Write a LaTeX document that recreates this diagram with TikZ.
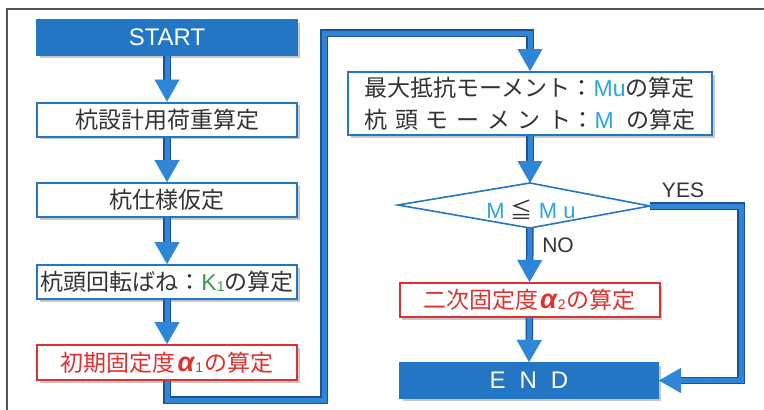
\documentclass[tikz,border=0pt]{standalone}
\usepackage{fontspec}
\setmainfont{Liberation Sans}
\newfontfamily\jp{Noto Sans CJK JP}
\usetikzlibrary{arrows.meta,shadows}
\definecolor{boxblue}{HTML}{2376C4}
\definecolor{arrowblue}{HTML}{2F86D6}
\definecolor{arrowdark}{HTML}{1D4F9C}
\definecolor{mcyan}{HTML}{2AA6DD}
\definecolor{kgreen}{HTML}{3A9A48}
\definecolor{redline}{HTML}{E03030}
\definecolor{textgray}{HTML}{333333}
\definecolor{framegray}{HTML}{555555}
\newcommand{\alphsub}[1]{\hspace{2pt}{\rmfamily\bfseries\itshape\fontsize{27}{27}\selectfont α}\hspace{1pt}{\rmfamily\raisebox{-1pt}{\fontsize{14}{14}\selectfont #1}}\hspace{1pt}}
\begin{document}
\begin{tikzpicture}[x=1pt,y=-1pt,
  box/.style={draw=boxblue, line width=2pt, fill=white, minimum width=260pt, minimum height=34pt,
    inner sep=0pt, text=textgray, font={\jp\fontsize{23}{27}\selectfont},
    drop shadow={shadow xshift=2.5pt, shadow yshift=-2.5pt, fill=black!22, opacity=1}},
  redbox/.style={box, draw=redline, text=redline},
  term/.style={box, fill=boxblue, text=white, font={\fontsize{24}{28}\selectfont}},
  lbl/.style={text=textgray, font={\fontsize{21}{24}\selectfont}, inner sep=0pt},
  arr/.style={line width=5pt, draw=arrowblue, line join=miter,
    -{Triangle[width=25pt,length=22pt,line width=0.01pt]},
    preaction={draw=arrowdark, line width=7.5pt, arrows=-, shorten >=18pt}},
  ]
\useasboundingbox (0,0) rectangle (764,410);
\fill[white] (0,0) rectangle (764,410);
\draw[framegray, line width=1.2pt] (7,410) -- (7,9) -- (764,9);

% left column
\node[term, minimum height=35pt] (start) at (167,37.5) {START};
\node[box] (b1) at (167,119.5) {杭設計用荷重算定};
\node[box] (b2) at (167,200) {杭仕様仮定};
\node[box] (b3) at (167,282) {杭頭回転ばね：{\rmfamily\color{kgreen}K\raisebox{-1pt}{\fontsize{14}{14}\selectfont 1}}の算定};
\node[redbox, minimum height=35pt] (b4) at (167,362.5) {初期固定度\alphsub{1}の算定};

% right column
\node[box, minimum width=364pt, minimum height=63pt, align=left, font={\jp\fontsize{23}{32}\selectfont}] (r1) at (530,103.5)
  {最大抵抗モーメント：{\rmfamily\color{mcyan}Mu}の算定\\
   \makebox[9em][s]{杭\hfil 頭\hfil モ\hfil ー\hfil メ\hfil ン\hfil ト}：{\rmfamily\color{mcyan}\rlap{M}\phantom{Mu}}の算定};

\coordinate (dT) at (530,183);
\coordinate (dL) at (398,205);
\coordinate (dR) at (650,206);
\coordinate (dB) at (530,228);
\draw[boxblue, line width=1.6pt, fill=white] (dT) -- (dR) -- (dB) -- (dL) -- cycle;
\node[inner sep=0pt, font={\fontsize{22}{26}\selectfont}] (cond) at (531,210)
  {\color{mcyan}M {\jp\color{textgray}≦} M u};

\node[redbox] (r2) at (529.5,300) {二次固定度\alphsub{2}の算定};
\node[term, minimum width=258pt, minimum height=35pt] (end) at (529,380.5) {E\hspace{14pt}N\hspace{14pt}D};

\node[lbl] (yes) at (683,190) {YES};
\node[lbl] (no) at (558,245) {NO};

% connectors
\draw[arr] (start.south) -- (b1.north);
\draw[arr] (b1.south) -- (b2.north);
\draw[arr] (b2.south) -- (b3.north);
\draw[arr] (b3.south) -- (b4.north);
\coordinate (l1) at (324,400);
\coordinate (l2) at (324,33);
\draw[arr] (b4.south) |- (l1) -- (l2) -| (r1.north);
\draw[arr] (r1.south) -- (dT);
\draw[arr] (dB) -- (r2.north);
\draw[arr] (r2.south) -- (end.north);
\coordinate (y1) at (741,206);
\draw[arr] (dR) -- (y1) |- (end.east);
\end{tikzpicture}
\end{document}
